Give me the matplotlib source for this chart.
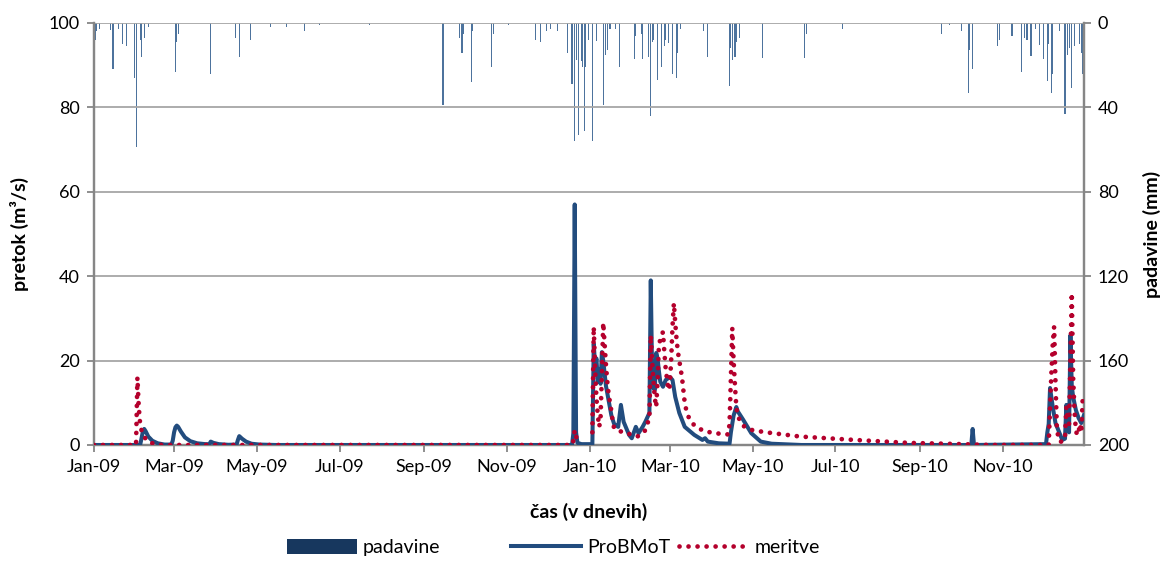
import numpy as np
import pandas as pd
import matplotlib
matplotlib.use("Agg")
import matplotlib.pyplot as plt
import matplotlib.dates as mdates
from matplotlib.patches import Patch
from matplotlib.lines import Line2D

plt.rcParams['font.family'] = ['Lato', 'DejaVu Sans']

# dnevne padavine (mm), samo dnevi z dezjem
rain_dates = [
    "2009-01-02", "2009-01-03", "2009-01-05", "2009-01-13", "2009-01-15", "2009-01-19",
    "2009-01-22", "2009-01-25", "2009-01-31", "2009-02-01", "2009-02-04", "2009-02-05",
    "2009-02-07", "2009-02-10", "2009-03-02", "2009-03-03", "2009-03-04", "2009-03-28",
    "2009-04-15", "2009-04-18", "2009-04-26", "2009-05-11", "2009-05-23", "2009-06-05",
    "2009-06-16", "2009-07-23", "2009-09-15", "2009-09-27", "2009-09-29", "2009-09-30",
    "2009-10-06", "2009-10-07", "2009-10-21", "2009-10-22", "2009-11-02", "2009-11-22",
    "2009-11-26", "2009-11-30", "2009-12-03", "2009-12-08", "2009-12-16", "2009-12-19",
    "2009-12-21", "2009-12-22", "2009-12-24", "2009-12-26", "2009-12-27", "2009-12-28",
    "2009-12-29", "2009-12-31", "2010-01-03", "2010-01-06", "2010-01-11", "2010-01-13",
    "2010-01-14", "2010-01-16", "2010-01-20", "2010-01-23", "2010-02-03", "2010-02-04",
    "2010-02-08", "2010-02-09", "2010-02-13", "2010-02-15", "2010-02-16", "2010-02-17",
    "2010-02-20", "2010-02-23", "2010-02-25", "2010-02-26", "2010-02-28", "2010-03-03",
    "2010-03-06", "2010-03-07", "2010-03-09", "2010-03-26", "2010-03-29", "2010-04-14",
    "2010-04-15", "2010-04-16", "2010-04-18", "2010-04-19", "2010-04-21", "2010-05-08",
    "2010-06-08", "2010-06-10", "2010-07-06", "2010-09-17", "2010-09-23", "2010-10-02",
    "2010-10-07", "2010-10-08", "2010-10-10", "2010-10-28", "2010-10-30", "2010-11-08",
    "2010-11-15", "2010-11-17", "2010-11-19", "2010-11-22", "2010-11-25", "2010-11-28",
    "2010-12-01", "2010-12-04", "2010-12-05", "2010-12-07", "2010-12-08", "2010-12-13",
    "2010-12-17", "2010-12-19", "2010-12-20", "2010-12-22", "2010-12-24", "2010-12-28",
    "2010-12-29", "2010-12-30",
]
rain_mm = [
    8, 4, 3, 3.5, 22, 3,
    10, 11, 26, 59, 8, 16,
    7, 2, 23, 9, 5, 24,
    7, 16, 8, 2, 2, 4,
    1, 1, 39, 7, 14, 5,
    28, 4, 21, 5, 1, 8,
    9, 4, 3, 4, 14, 29,
    56, 17.5, 53, 18, 21, 51,
    21, 8, 56, 8.5, 39, 15,
    13, 3, 3, 21, 17, 6,
    5, 17, 16, 44, 9, 8,
    27, 21, 11, 8, 9.5, 24,
    26, 14, 3, 4, 16, 30,
    12, 17.5, 16, 9, 7, 16.5,
    16.5, 5, 3, 5, 1, 4,
    33, 13, 22, 11, 8, 6,
    23, 7, 8, 15.6, 3, 10.5,
    17, 27.5, 10, 33, 24, 4,
    43, 15, 12, 31, 11, 10,
    14, 24,
]

# modelirani pretok ProBMoT (m3/s)
model_dates = [
    "2009-01-01", "2009-02-04", "2009-02-05", "2009-02-06", "2009-02-07", "2009-02-08",
    "2009-02-10", "2009-02-13", "2009-02-17", "2009-02-22", "2009-02-27", "2009-02-28",
    "2009-03-01", "2009-03-02", "2009-03-03", "2009-03-04", "2009-03-06", "2009-03-09",
    "2009-03-13", "2009-03-18", "2009-03-24", "2009-03-27", "2009-03-28", "2009-03-30",
    "2009-04-03", "2009-04-10", "2009-04-16", "2009-04-17", "2009-04-18", "2009-04-20",
    "2009-04-23", "2009-04-27", "2009-05-03", "2009-05-15", "2009-12-19", "2009-12-20",
    "2009-12-21", "2009-12-22", "2009-12-23", "2009-12-26", "2010-01-03", "2010-01-04",
    "2010-01-05", "2010-01-06", "2010-01-07", "2010-01-08", "2010-01-09", "2010-01-10",
    "2010-01-11", "2010-01-12", "2010-01-13", "2010-01-15", "2010-01-17", "2010-01-19",
    "2010-01-22", "2010-01-24", "2010-01-26", "2010-01-30", "2010-02-01", "2010-02-04",
    "2010-02-06", "2010-02-09", "2010-02-11", "2010-02-14", "2010-02-15", "2010-02-16",
    "2010-02-17", "2010-02-18", "2010-02-19", "2010-02-20", "2010-02-21", "2010-02-22",
    "2010-02-24", "2010-02-26", "2010-03-01", "2010-03-03", "2010-03-05", "2010-03-08",
    "2010-03-12", "2010-03-19", "2010-03-25", "2010-03-27", "2010-03-29", "2010-04-06",
    "2010-04-14", "2010-04-15", "2010-04-17", "2010-04-19", "2010-04-20", "2010-04-24",
    "2010-04-30", "2010-05-07", "2010-05-15", "2010-06-06", "2010-10-09", "2010-10-10",
    "2010-10-11", "2010-12-03", "2010-12-04", "2010-12-05", "2010-12-06", "2010-12-08",
    "2010-12-10", "2010-12-13", "2010-12-15", "2010-12-17", "2010-12-18", "2010-12-19",
    "2010-12-20", "2010-12-21", "2010-12-22", "2010-12-23", "2010-12-25", "2010-12-27",
    "2010-12-29", "2010-12-31",
]
model_q = [
    0, 0, 1.5, 3.2, 3.8, 3.3,
    2.0, 1.0, 0.4, 0.1, 0.1, 1.0,
    3.0, 4.2, 4.6, 4.3, 3.2, 1.8,
    0.9, 0.4, 0.2, 0.2, 0.8, 0.5,
    0.2, 0.05, 0.1, 1.2, 2.1, 1.5,
    0.8, 0.3, 0.1, 0, 0, 2.8,
    57, 3, 0.5, 0.2, 0.2, 24,
    19, 20.5, 15, 18, 14.5, 22,
    20, 17, 14, 10.5, 7, 5,
    4.3, 9.5, 5.5, 2.4, 1.6, 4.3,
    2.8, 4.3, 5.5, 7.6, 39, 17,
    13.5, 13, 21.8, 20.5, 17.5, 15,
    13.8, 15.4, 16.1, 15.4, 11.4, 7.6,
    4.3, 2.4, 1.2, 1.6, 0.8, 0.4,
    0.3, 3, 7, 9, 8, 6,
    2.8, 0.8, 0.3, 0, 0, 3.8,
    0, 0.2, 3, 5, 13.5, 9,
    5.2, 2.8, 1.2, 1.5, 9.5, 5,
    3, 26, 14, 11.4, 8.3, 6.4,
    5.2, 7.1,
]

# izmerjeni pretok (m3/s); NaN = ni meritev
meas_dates = [
    "2009-01-01", "2009-02-01", "2009-02-02", "2009-02-03", "2009-02-04", "2009-02-05",
    "2009-02-06", "2009-02-08", "2009-02-11", "2009-02-16", "2009-02-20", "2009-12-19",
    "2009-12-20", "2009-12-21", "2009-12-22", "2009-12-23", "2009-12-24", "2010-01-03",
    "2010-01-04", "2010-01-05", "2010-01-06", "2010-01-07", "2010-01-08", "2010-01-09",
    "2010-01-10", "2010-01-11", "2010-01-12", "2010-01-13", "2010-01-14", "2010-01-15",
    "2010-01-16", "2010-01-17", "2010-01-18", "2010-01-19", "2010-01-21", "2010-01-24",
    "2010-01-28", "2010-02-01", "2010-02-05", "2010-02-08", "2010-02-11", "2010-02-13",
    "2010-02-14", "2010-02-15", "2010-02-16", "2010-02-17", "2010-02-18", "2010-02-19",
    "2010-02-20", "2010-02-21", "2010-02-22", "2010-02-23", "2010-02-24", "2010-02-25",
    "2010-02-26", "2010-02-27", "2010-02-28", "2010-03-01", "2010-03-02", "2010-03-03",
    "2010-03-04", "2010-03-05", "2010-03-06", "2010-03-07", "2010-03-08", "2010-03-09",
    "2010-03-10", "2010-03-11", "2010-03-12", "2010-03-13", "2010-03-15", "2010-03-18",
    "2010-03-22", "2010-03-27", "2010-04-06", "2010-04-13", "2010-04-14", "2010-04-15",
    "2010-04-16", "2010-04-17", "2010-04-18", "2010-04-19", "2010-04-20", "2010-04-22",
    "2010-04-25", "2010-05-01", "2010-05-11", "2010-06-05", "2010-07-15", "2010-08-24",
    "2010-10-03", "2010-10-23", "2010-12-05", "2010-12-06", "2010-12-07", "2010-12-08",
    "2010-12-09", "2010-12-10", "2010-12-11", "2010-12-12", "2010-12-13", "2010-12-15",
    "2010-12-17", "2010-12-18", "2010-12-19", "2010-12-20", "2010-12-21", "2010-12-22",
    "2010-12-23", "2010-12-24", "2010-12-25", "2010-12-26", "2010-12-27", "2010-12-28",
    "2010-12-29", "2010-12-30", "2010-12-31",
]
meas_q = [
    0, 0, 16, 9, 5, 3.5,
    2.5, 1.5, 0.6, 0.15, 0, 0,
    1, 3.5, 2, 1.2, np.nan, 3,
    28, 18, 11, 7, 4.3, 6,
    17, 29, 24, 19, 15, 12,
    10, 8, 5.5, 4, 3.5, 3.2,
    3, 2.3, 2, 2.5, 3.5, 5.5,
    6, 26, 20, 15, 11, 9,
    15, 23.7, 25, 26, 26.8, 22,
    18, 15.5, 13, 14, 20, 28,
    33.6, 29, 25, 22, 20, 18,
    16, 13, 10, 8.5, 6.5, 5,
    4, 3.2, 2.7, 2.5, 5, 16,
    27.7, 20, 14, 9, 7, 5.5,
    4.3, 3.5, 3, 2, 1.2, 0.5,
    0.2, 0, 0, 9, 17, 24,
    28, 15, 4, 2, 0.8, 0.8,
    1.5, 9, 6.5, 5, 20, 36,
    16, 8, 3.5, 2.3, 3, 5,
    3, 10.7, 11,
]

month_ticks = pd.date_range("2009-01-01", "2010-12-01", freq="2MS")

rain_x = pd.to_datetime(rain_dates)
model_x = pd.to_datetime(model_dates)
meas_x = pd.to_datetime(meas_dates)

grey = "#868686"
blue = "#224c7e"
red = "#b4002c"
bar_col = "#2e5a8c"
dots = (0, (0.01, 1.9))

fig = plt.figure(figsize=(11.7, 5.73), dpi=100)
ax = fig.add_axes([0.0803, 0.2234, 0.8462, 0.7365])
ax2 = ax.twinx()

ax.set_xlim(pd.Timestamp("2009-01-01"), pd.Timestamp("2010-12-31"))
ax.set_ylim(0, 100)
ax.set_yticks(np.arange(0, 101, 20))
ax.grid(axis="y", color="#a6a6a6", linewidth=1.3)
ax.set_axisbelow(True)

ax.plot(model_x, model_q, color=blue, linewidth=2.9, solid_joinstyle="round", zorder=3)
ax.plot(meas_x, meas_q, color=red, linewidth=3.4, dash_capstyle="round",
        linestyle=dots, zorder=4)

ax2.bar(rain_x, rain_mm, width=0.8, color=bar_col, linewidth=0, alpha=0.85)
ax2.set_ylim(200, 0)
ax2.set_yticks(np.arange(0, 201, 40))

ax.set_xticks(month_ticks)
ax.xaxis.set_major_formatter(mdates.DateFormatter("%b-%y"))

for a in (ax, ax2):
    for s in a.spines.values():
        s.set_color(grey)
        s.set_linewidth(1.6)
    a.spines["top"].set_visible(False)
    a.tick_params(colors=grey, labelcolor="black", labelsize=13, width=1.3,
                  length=5, pad=5)

ax.set_zorder(ax2.get_zorder() + 1)
ax.patch.set_visible(False)

ax.set_ylabel("pretok (m³/s)", fontsize=14, fontweight="bold", labelpad=14)
ax2.set_ylabel("padavine (mm)", fontsize=14, fontweight="bold", labelpad=10)
ax.set_xlabel("čas (v dnevih)", fontsize=14, fontweight="bold", labelpad=20)

# legenda: vsak vnos posebej, kot v izvirni razporeditvi
entries = [
    (Patch(facecolor="#17375e", edgecolor="none"), "padavine", 0.245),
    (Line2D([], [], color=blue, linewidth=2.9), "ProBMoT", 0.437),
    (Line2D([], [], color=red, linewidth=3.4, linestyle=dots, dash_capstyle="round"),
     "meritve", 0.580),
]
for handle, label, xpos in entries:
    fig.legend([handle], [label], loc="center left", bbox_to_anchor=(xpos, 0.044),
               frameon=False, fontsize=14, handlelength=3.6, handleheight=0.75,
               handletextpad=0.3, borderaxespad=0, borderpad=0)

fig.savefig("out.png", dpi=100)
